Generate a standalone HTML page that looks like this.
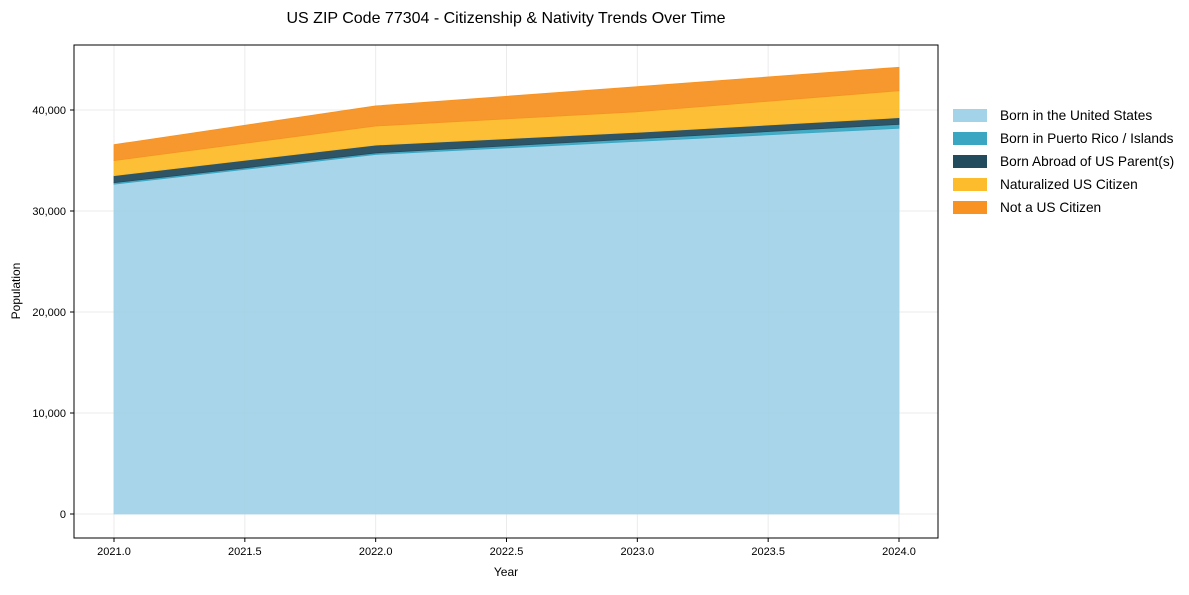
<!DOCTYPE html>
<html><head><meta charset="utf-8"><style>
body{margin:0;background:#fff;font-family:"Liberation Sans",sans-serif;}
svg text{font-family:"Liberation Sans",sans-serif;}
</style></head><body>
<svg id="c" width="1189" height="590"></svg>
<script>
const years=[2021,2022,2023,2024];
const bornUS=[32650,35600,36900,38190];
const bornPR=[150,150,250,390];
const bornAbroad=[700,780,640,660];
const naturalized=[1490,1890,2040,2670];
const notCitizen=[1580,1980,2480,2320];
const xTicks=[2021.0,2021.5,2022.0,2022.5,2023.0,2023.5,2024.0];
const yTicks=[0,10000,20000,30000,40000];
const names=["Born in the United States","Born in Puerto Rico / Islands","Born Abroad of US Parent(s)","Naturalized US Citizen","Not a US Citizen"];
const colors=["#a3d3e8","#3aa6c2","#234b5e","#fcbc2b","#f79223"];
const series=[bornUS,bornPR,bornAbroad,naturalized,notCitizen];
const ns="http://www.w3.org/2000/svg";
const svg=document.getElementById('c');
const L=74,R=938,T=45,B=538;
const x=v=>114+(v-2021)*(899-114)/3;
const y=v=>514-v*101/10000;
function el(t,a,p){const e=document.createElementNS(ns,t);for(const k in a)e.setAttribute(k,a[k]);(p||svg).appendChild(e);return e;}
xTicks.forEach(t=>{const g=el('line',{x1:x(t),x2:x(t),y1:T,y2:B,stroke:'#ebebeb','stroke-width':1});});
yTicks.forEach(t=>{const g=el('line',{x1:L,x2:R,y1:y(t),y2:y(t),stroke:'#ebebeb','stroke-width':1});});
let base=years.map(()=>0);
series.forEach((s,i)=>{
  const top=base.map((b,j)=>b+s[j]);
  let d='M'+years.map((yr,j)=>x(yr)+','+y(top[j])).join(' L');
  for(let j=years.length-1;j>=0;j--)d+=' L'+x(years[j])+','+y(base[j]);
  d+='Z';
  const p=el('path',{d:d,fill:colors[i],'fill-opacity':0.95,stroke:colors[i],'stroke-width':0.8});
  
  
  base=top;
});
const fr=el('rect',{x:L,y:T,width:R-L,height:B-T,fill:'none',stroke:'#000','stroke-width':1});

xTicks.forEach(t=>{el('line',{x1:x(t),x2:x(t),y1:B,y2:B+4,stroke:'#000'});
  const tx=el('text',{x:x(t),y:B+17,'font-size':11,'text-anchor':'middle'});tx.textContent=t.toFixed(1);
  });
yTicks.forEach(t=>{el('line',{x1:L-4,x2:L,y1:y(t),y2:y(t),stroke:'#000'});
  const tx=el('text',{x:L-8,y:y(t)+4,'font-size':11,'text-anchor':'end'});tx.textContent=t.toLocaleString('en-US');
  });
let t1=el('text',{x:506,y:576,'font-size':12,'text-anchor':'middle'});t1.textContent='Year';

let t2=el('text',{x:20,y:291,'font-size':12,'text-anchor':'middle',transform:'rotate(-90 20 291)'});t2.textContent='Population';

let t3=el('text',{x:506,y:23,'font-size':16,'text-anchor':'middle'});t3.textContent='US ZIP Code 77304 - Citizenship & Nativity Trends Over Time';

names.forEach((n,i)=>{
  const g=el('g',{});
  el('rect',{x:953,y:109+i*23,width:34,height:13,fill:colors[i]},g);
  const tx=el('text',{x:1000,y:120+i*23,'font-size':13.7},g);tx.textContent=n;
});
</script>
</body></html>
